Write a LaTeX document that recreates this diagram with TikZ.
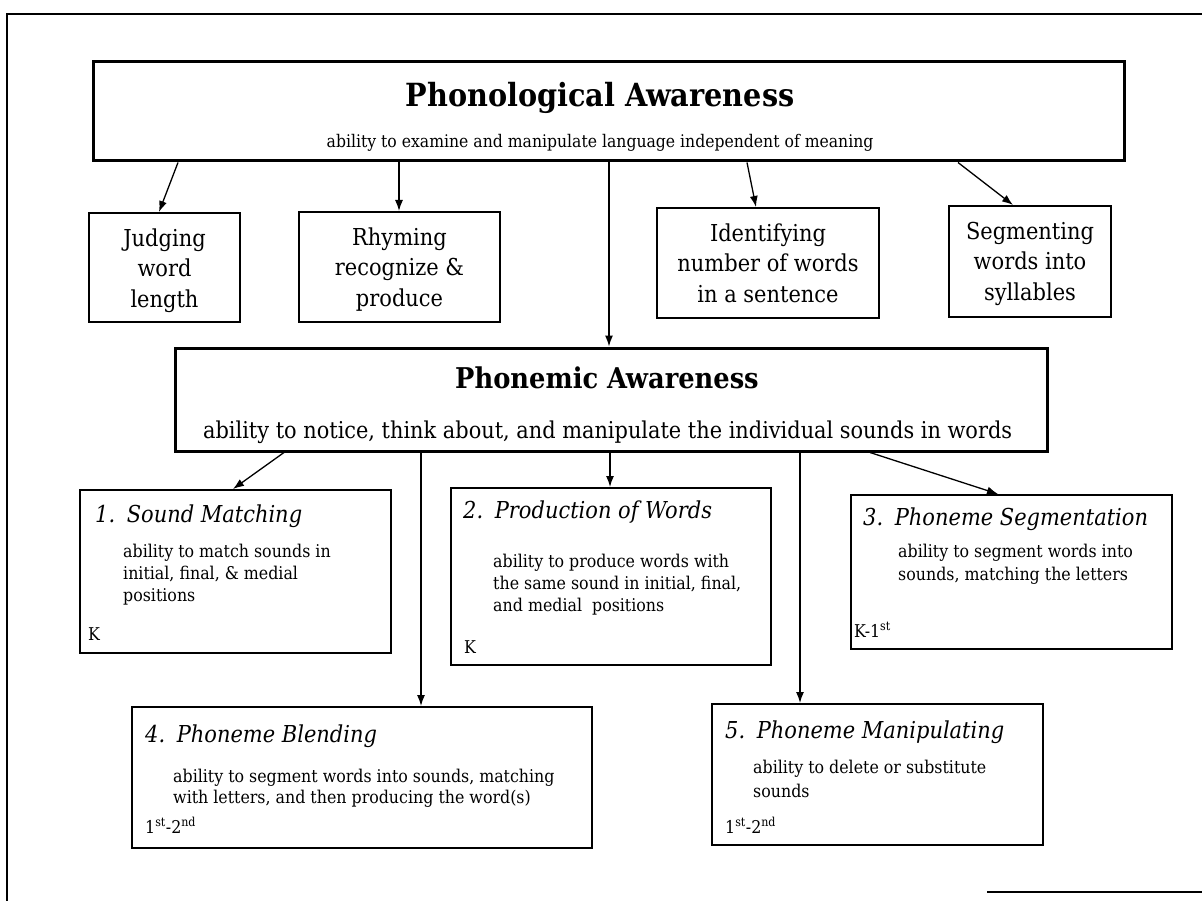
\documentclass[tikz,border=0pt]{standalone}
\usepackage{fontspec}
\setmainfont{DejaVu Serif Condensed}
\usetikzlibrary{arrows.meta}
\newcommand\fbigtitle{\fontsize{31.9}{34}\selectfont\bfseries}
\newcommand\fmidtitle{\fontsize{28.6}{30}\selectfont\bfseries}
\newcommand\fsubA{\fontsize{17.4}{20}\selectfont}
\newcommand\fsubB{\fontsize{23.2}{26}\selectfont}
\newcommand\fsmallbox{\fontsize{23.3}{26}\selectfont}
\newcommand\fttl{\fontsize{23.3}{26}\selectfont\itshape}
\newcommand\fdesc{\fontsize{17.6}{20}\selectfont}
\begin{document}
\begin{tikzpicture}[x=1pt,y=-1pt,
  thickbox/.style={draw, line width=3pt, inner sep=0pt},
  thinbox/.style={draw, line width=2pt, inner sep=0pt},
  frameline/.style={line width=1.5pt},
  arr/.style={line width=1.3pt, -{Latex[length=11pt,width=8pt]}},
  txt/.style={inner sep=0pt, anchor=base},
  txtl/.style={inner sep=0pt, anchor=base west}]
\useasboundingbox (0,0) rectangle (1202,901);
\fill[white] (0,0) rectangle (1202,901);
% scan frame
\draw[frameline] (7,901) -- (7,14) -- (1202,14);
\draw[frameline] (987,892) -- (1202,892);

% main boxes
\node[thickbox, minimum width=1031pt, minimum height=99pt] (A) at (608.5,111.5) {};
\node[txt] (At) at (600,107) {\fbigtitle Phonological Awareness};
\node[txt] (As) at (600,148) {\fsubA ability to examine and manipulate language independent of meaning};

\node[thickbox, minimum width=872pt, minimum height=103pt] (B) at (611,399.5) {};
\node[txt] (Bt) at (607,388) {\fmidtitle Phonemic Awareness};
\node[txt] (Bs) at (607.5,438) {\fsubB ability to notice, think about, and manipulate the individual sounds in words};

% small boxes
\node[thinbox, minimum width=151pt, minimum height=109pt] (J) at (164.5,267.5) {};
\node[txt] (J1) at (164.5,247) {\fsmallbox Judging};
\node[txt] (J2) at (164.5,277) {\fsmallbox word};
\node[txt] (J3) at (164.5,308) {\fsmallbox length};

\node[thinbox, minimum width=201pt, minimum height=110pt] (R) at (399.5,267) {};
\node[txt] (R1) at (399.5,246) {\fsmallbox Rhyming};
\node[txt] (R2) at (399.5,276) {\fsmallbox recognize \&};
\node[txt] (R3) at (399.5,307) {\fsmallbox produce};

\node[thinbox, minimum width=222pt, minimum height=110pt] (I) at (768,263) {};
\node[txt] (I1) at (768,242) {\fsmallbox Identifying};
\node[txt] (I2) at (768,272) {\fsmallbox number of words};
\node[txt] (I3) at (768,303) {\fsmallbox in a sentence};

\node[thinbox, minimum width=162pt, minimum height=111pt] (S) at (1030,261.5) {};
\node[txt] (S1) at (1030,240) {\fsmallbox Segmenting};
\node[txt] (S2) at (1030,270) {\fsmallbox words into};
\node[txt] (S3) at (1030,301) {\fsmallbox syllables};

% numbered boxes
\node[thinbox, minimum width=311pt, minimum height=163pt] (P1) at (235.5,571.5) {};
\node[txtl] (P1a) at (95,522) {\fttl 1.\hspace{0.5em}Sound Matching};
\node[txtl] (P1b) at (123,557) {\fdesc ability to match sounds in};
\node[txtl] (P1c) at (123,579) {\fdesc initial, final, \& medial};
\node[txtl] (P1d) at (123,601) {\fdesc positions};
\node[txtl] (P1e) at (88,640) {\fdesc K};

\node[thinbox, minimum width=320pt, minimum height=177pt] (P2) at (611,576.5) {};
\node[txtl] (P2a) at (463,518) {\fttl 2.\hspace{0.5em}Production of Words};
\node[txtl] (P2b) at (493,567) {\fdesc ability to produce words with};
\node[txtl] (P2c) at (493,589) {\fdesc the same sound in initial, final,};
\node[txtl] (P2d) at (493,611) {\fdesc and medial\ \ positions};
\node[txtl] (P2e) at (464,653) {\fdesc K};

\node[thinbox, minimum width=321pt, minimum height=154pt] (P3) at (1011.5,572) {};
\node[txtl] (P3a) at (863,525) {\fttl 3.\hspace{0.5em}Phoneme Segmentation};
\node[txtl] (P3b) at (898,557) {\fdesc ability to segment words into};
\node[txtl] (P3c) at (898,580) {\fdesc sounds, matching the letters};
\node[txtl] (P3d) at (854,637) {\fdesc K-1\textsuperscript{st}};

\node[thinbox, minimum width=460pt, minimum height=141pt] (P4) at (362,777.5) {};
\node[txtl] (P4a) at (145,742) {\fttl 4.\hspace{0.5em}Phoneme Blending};
\node[txtl] (P4b) at (173,782) {\fdesc ability to segment words into sounds, matching};
\node[txtl] (P4c) at (173,803) {\fdesc with letters, and then producing the word(s)};
\node[txtl] (P4d) at (145,833) {\fdesc 1\textsuperscript{st}-2\textsuperscript{nd}};

\node[thinbox, minimum width=331pt, minimum height=141pt] (P5) at (877.5,774.5) {};
\node[txtl] (P5a) at (725,738) {\fttl 5.\hspace{0.5em}Phoneme Manipulating};
\node[txtl] (P5b) at (753,773) {\fdesc ability to delete or substitute};
\node[txtl] (P5c) at (753,797) {\fdesc sounds};
\node[txtl] (P5d) at (725,833) {\fdesc 1\textsuperscript{st}-2\textsuperscript{nd}};

% connectors from Phonological Awareness
\draw[arr] ([xshift=-430.5pt]A.south) -- ([xshift=-5.5pt]J.north);
\draw[arr] ([xshift=-209.5pt]A.south) -- ([xshift=-0.5pt]R.north);
\draw[arr] ([xshift=0.5pt]A.south) -- ([xshift=-2pt]B.north);
\draw[arr] ([xshift=138.5pt]A.south) -- ([xshift=-12pt]I.north);
\draw[arr] ([xshift=349.5pt]A.south) -- ([xshift=-17pt]S.north);

% connectors from Phonemic Awareness
\draw[arr] ([xshift=-327pt]B.south) -- ([xshift=-2.5pt]P1.north);
\draw[arr] ([xshift=-190pt]B.south) -- ([xshift=59pt]P4.north);
\draw[arr] ([xshift=-1pt]B.south) -- ([xshift=-1pt]P2.north);
\draw[arr] ([xshift=189pt]B.south) -- ([xshift=-77.5pt]P5.north);
\draw[arr] ([xshift=259pt]B.south) -- ([xshift=-13.5pt]P3.north);
\end{tikzpicture}
\end{document}
